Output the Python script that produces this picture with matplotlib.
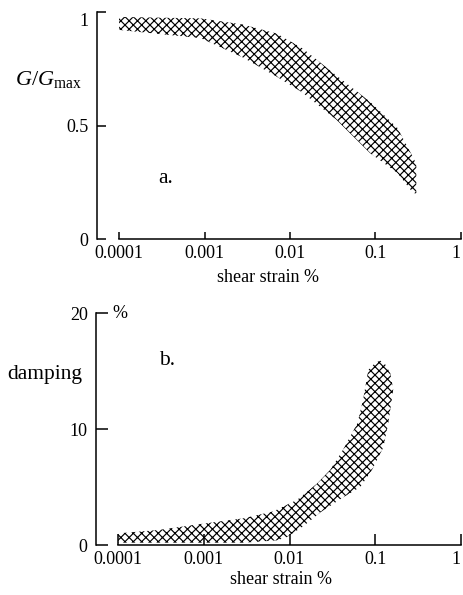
import numpy as np
import matplotlib
matplotlib.use('Agg')
import matplotlib.pyplot as plt

plt.rcParams['font.family'] = ['Liberation Serif', 'DejaVu Serif']
plt.rcParams['font.size'] = 13
plt.rcParams['mathtext.fontset'] = 'custom'
plt.rcParams['mathtext.rm'] = 'Liberation Serif'
plt.rcParams['mathtext.it'] = 'Liberation Serif:italic'
plt.rcParams['hatch.linewidth'] = 0.85

# shear strain ticks
strain_ticks = [0.0001, 0.001, 0.01, 0.1, 1]
strain_labels = ['0.0001', '0.001', '0.01', '0.1', '1']

# a. G/Gmax band (upper and lower edge)
g_strain_upper = [0.0001, 0.0009, 0.0028, 0.007, 0.014, 0.035, 0.086, 0.18, 0.275, 0.30]
g_ratio_upper = [0.978, 0.972, 0.945, 0.905, 0.84, 0.72, 0.605, 0.49, 0.36, 0.33]
g_strain_lower = [0.0001, 0.0009, 0.0028, 0.007, 0.014, 0.035, 0.086, 0.18, 0.275, 0.30]
g_ratio_lower = [0.921, 0.885, 0.80, 0.715, 0.645, 0.525, 0.379, 0.291, 0.203, 0.20]

# b. damping band (upper/left edge and lower/right edge), %
d_strain_upper = [0.0001, 0.0003, 0.0009, 0.0029, 0.0065, 0.0123, 0.021, 0.030,
                  0.042, 0.062, 0.072, 0.083, 0.10, 0.114, 0.13, 0.15]
d_damp_upper = [1.0, 1.3, 1.8, 2.3, 2.9, 3.9, 5.3, 6.5,
                8.2, 10.5, 12.5, 15.1, 15.7, 15.9, 15.6, 14.8]
d_strain_lower = [0.0001, 0.0029, 0.0072, 0.0094, 0.0144, 0.0228, 0.042, 0.067,
                  0.092, 0.124, 0.142, 0.162]
d_damp_lower = [0.2, 0.2, 0.4, 0.7, 1.6, 2.8, 4.1, 5.0, 6.5, 8.4, 10.5, 13.4]

W, H = 464, 595


def px(x, y):
    return x / W, 1 - y / H


def band(ax, xu, yu, xl, yl):
    xs = np.concatenate([xu, xl[::-1]])
    ys = np.concatenate([yu, yl[::-1]])
    ax.fill(xs, ys, facecolor='white', edgecolor='black', linewidth=0, hatch='xxxx')


def style_axes(ax, ylim, yticks, ylabels, xtick_len, ytick_len):
    ax.set_xscale('log')
    ax.set_xlim(1e-4, 1)
    ax.set_ylim(*ylim)
    ax.spines['top'].set_visible(False)
    ax.spines['right'].set_visible(False)
    ax.spines['left'].set_position(('outward', 15.8))
    for s in ('left', 'bottom'):
        ax.spines[s].set_linewidth(1.1)
    ax.set_xticks(strain_ticks, strain_labels)
    ax.xaxis.set_minor_locator(matplotlib.ticker.NullLocator())
    ax.get_xticklabels()[-1].set_ha('right')
    ax.set_yticks(yticks, ylabels)
    ax.tick_params(axis='x', direction='in', length=xtick_len, width=1.1, pad=4)
    ax.tick_params(axis='y', direction='in', length=ytick_len, width=1.1, pad=6)


fig = plt.figure(figsize=(W / 100, H / 100), dpi=100)

ax1 = fig.add_axes([119 / W, 1 - 239 / H, 342 / W, 227 / H])
band(ax1, g_strain_upper, g_ratio_upper, g_strain_lower, g_ratio_lower)
style_axes(ax1, (0, 1), [0, 0.5, 1], ['0', '0.5', ''], 5, 6.5)
ax1.annotate('1', xy=(0, 1), xycoords=ax1.get_yaxis_transform(),
             xytext=(-21.8, -7.2), textcoords='offset points', ha='right', va='center')

ax2 = fig.add_axes([118 / W, 1 - 545 / H, 343 / W, 232 / H])
band(ax2, d_strain_upper, d_damp_upper, d_strain_lower, d_damp_lower)
style_axes(ax2, (0, 20), [0, 10, 20], ['0', '10', '20'], 8, 8.5)
ax2.annotate('%', xy=(0, 20), xycoords=ax2.get_yaxis_transform(),
             xytext=(-4.3, 0), textcoords='offset points', ha='left', va='center')

fig.text(*px(15, 85), r'$G/G_{\mathrm{max}}$', fontsize=16, ha='left', va='baseline')
fig.text(*px(7, 379), 'damping', fontsize=15.5, ha='left', va='baseline')
fig.text(*px(158, 183), 'a.', fontsize=15.5, ha='left', va='baseline')
fig.text(*px(159, 365), 'b.', fontsize=15.5, ha='left', va='baseline')
fig.text(*px(268, 277), 'shear strain %', ha='center', va='center')
fig.text(*px(281, 580), 'shear strain %', ha='center', va='center')

fig.savefig('out.png', dpi=100)
